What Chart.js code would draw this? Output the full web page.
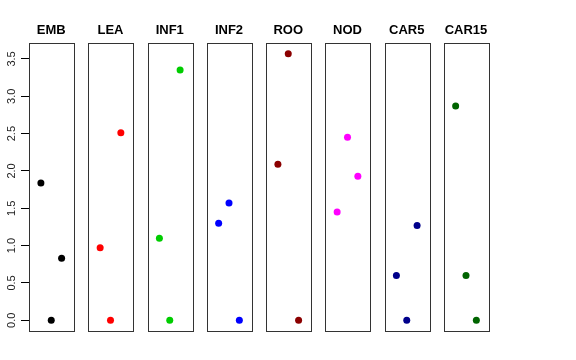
<!DOCTYPE html>
<html>
<head>
<meta charset="utf-8">
<script src="https://cdn.jsdelivr.net/npm/chart.js@4"></script>
<style>
  html, body { margin: 0; padding: 0; background: #fff; }
  #wrap { position: relative; width: 576px; height: 360px; }
  #wrap canvas { position: absolute; left: 0; top: 0; }
</style>
</head>
<body>
<div id="wrap"></div>
<script>
// panels and their values (x = 1, 2, 3 inside each panel)
var categories = ['EMB', 'LEA', 'INF1', 'INF2', 'ROO', 'NOD', 'CAR5', 'CAR15'];
var colors = ['#000000', '#FF0000', '#00CD00', '#0000FF', '#8B0000', '#FF00FF', '#00008B', '#006400'];
var xPos = [1, 2, 3];
var emb   = [1.84, 0, 0.83];
var lea   = [0.97, 0, 2.51];
var inf1  = [1.10, 0, 3.35];
var inf2  = [1.30, 1.57, 0];
var roo   = [2.09, 3.57, 0];
var nod   = [1.45, 2.45, 1.93];
var car5  = [0.60, 0, 1.27];
var car15 = [2.87, 0.60, 0];
var yTicks = [0, 0.5, 1, 1.5, 2, 2.5, 3, 3.5];
var yTickLabels = ['0.0', '0.5', '1.0', '1.5', '2.0', '2.5', '3.0', '3.5'];

var series = [emb, lea, inf1, inf2, roo, nod, car5, car15];
var font = "'Liberation Sans', Arial, Helvetica, sans-serif";

// box outline + panel title
var panelDeco = {
  id: 'panelDeco',
  afterDatasetsDraw: function(chart, args, opts) {
    var a = chart.chartArea, c = chart.ctx;
    c.save();
    c.strokeStyle = '#333';
    c.lineWidth = 1;
    c.strokeRect(Math.round(a.left) + 0.5, Math.round(a.top) + 0.5,
                 Math.round(a.right - a.left), Math.round(a.bottom - a.top));
    c.fillStyle = '#000';
    c.font = 'bold 13px ' + font;
    c.textAlign = 'center';
    c.textBaseline = 'alphabetic';
    c.fillText(opts.title, (a.left + a.right) / 2, 34);
    c.restore();
  }
};

// rotated y tick labels like R's axis()
var rotLabels = {
  id: 'rotLabels',
  afterDraw: function(chart) {
    if (!chart.options.plugins.rotLabels.show) return;
    var y = chart.scales.y, c = chart.ctx;
    c.save();
    c.fillStyle = '#222';
    c.font = '11px ' + font;
    c.textAlign = 'center';
    c.textBaseline = 'alphabetic';
    yTicks.forEach(function(v, i) {
      c.save();
      c.translate(14.5, y.getPixelForValue(v));
      c.rotate(-Math.PI / 2);
      c.fillText(yTickLabels[i], 0, 0);
      c.restore();
    });
    c.restore();
  }
};

var wrap = document.getElementById('wrap');
categories.forEach(function(name, i) {
  var cv = document.createElement('canvas');
  cv.width = 576; cv.height = 360;
  cv.style.width = '576px'; cv.style.height = '360px';
  wrap.appendChild(cv);

  var left = 29 + 59.25 * i;
  var right = left + 44.5;
  var first = i === 0;
  var pts = xPos.map(function(x, k) { return { x: x, y: series[i][k] }; });

  new Chart(cv.getContext('2d'), {
    type: 'scatter',
    data: {
      datasets: [{
        label: name,
        data: pts,
        backgroundColor: colors[i],
        borderWidth: 0,
        pointRadius: 3.5
      }]
    },
    options: {
      responsive: false,
      animation: false,
      events: [],
      layout: { padding: { left: first ? 0 : left, right: 576 - right, top: 43, bottom: 29 } },
      scales: {
        x: { type: 'linear', min: -0.15, max: 4.15, display: false },
        y: {
          type: 'linear', min: -0.143, max: 3.713,
          display: first,
          afterBuildTicks: function(s) { s.ticks = yTicks.map(function(v) { return { value: v }; }); },
          afterFit: function(s) { if (first) s.width = 29; },
          ticks: { display: false },
          grid: { drawOnChartArea: false, drawTicks: true, tickLength: 8, color: '#000', lineWidth: 1 },
          border: { display: true, color: '#000' }
        }
      },
      plugins: {
        legend: { display: false },
        tooltip: { enabled: false },
        panelDeco: { title: name },
        rotLabels: { show: first }
      }
    },
    plugins: [panelDeco, rotLabels]
  });
});
</script>
</body>
</html>
